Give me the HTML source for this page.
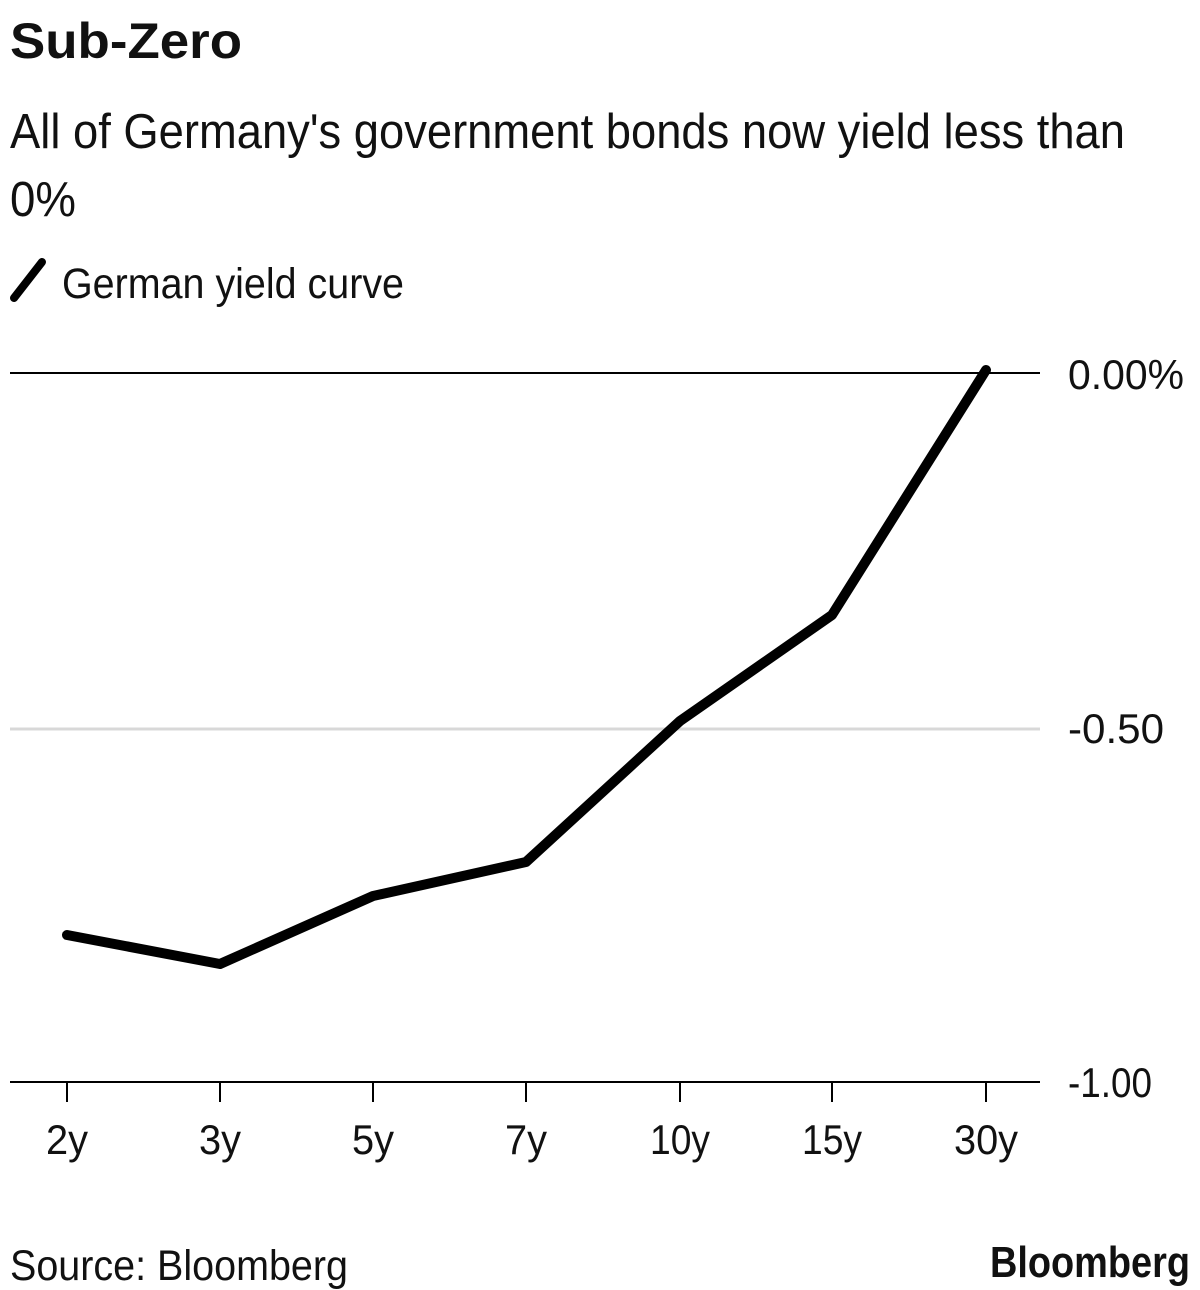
<!DOCTYPE html>
<html><head><meta charset="utf-8"><style>
html,body{margin:0;padding:0;background:#fff;}
svg{display:block;font-family:"Liberation Sans",Arial,sans-serif;}
</style></head><body>
<svg width="1200" height="1290" viewBox="0 0 1200 1290" xmlns="http://www.w3.org/2000/svg">
<text x="10" y="58" font-size="50" font-weight="bold" fill="#111" textLength="232" lengthAdjust="spacingAndGlyphs">Sub-Zero</text>
<text x="10" y="148" font-size="49" fill="#111" textLength="1115" lengthAdjust="spacingAndGlyphs">All of Germany's government bonds now yield less than</text>
<text x="10" y="216" font-size="49" fill="#111" textLength="66" lengthAdjust="spacingAndGlyphs">0%</text>
<line x1="14" y1="298" x2="42" y2="262" stroke="#000" stroke-width="8" stroke-linecap="round"/>
<text x="62" y="298" font-size="43" fill="#111" textLength="342" lengthAdjust="spacingAndGlyphs">German yield curve</text>
<line x1="10" y1="373" x2="1040" y2="373" stroke="#000" stroke-width="2"/>
<line x1="10" y1="729" x2="1040" y2="729" stroke="#d8d8d8" stroke-width="3"/>
<line x1="10" y1="1082" x2="1040" y2="1082" stroke="#000" stroke-width="2"/>
<g font-size="42" fill="#111">
<text x="1068" y="389" textLength="116" lengthAdjust="spacingAndGlyphs">0.00%</text>
<text x="1068" y="743" textLength="96" lengthAdjust="spacingAndGlyphs">-0.50</text>
<text x="1068" y="1097" textLength="84" lengthAdjust="spacingAndGlyphs">-1.00</text>
</g>
<g stroke="#000" stroke-width="2">
<line x1="67" y1="1082" x2="67" y2="1102"/><line x1="220" y1="1082" x2="220" y2="1102"/>
<line x1="373" y1="1082" x2="373" y2="1102"/><line x1="526" y1="1082" x2="526" y2="1102"/>
<line x1="680" y1="1082" x2="680" y2="1102"/><line x1="832" y1="1082" x2="832" y2="1102"/>
<line x1="986" y1="1082" x2="986" y2="1102"/>
</g>
<g font-size="42" fill="#111" text-anchor="middle">
<text x="67" y="1154" textLength="42" lengthAdjust="spacingAndGlyphs">2y</text><text x="220" y="1154" textLength="42" lengthAdjust="spacingAndGlyphs">3y</text><text x="373" y="1154" textLength="42" lengthAdjust="spacingAndGlyphs">5y</text>
<text x="526" y="1154" textLength="42" lengthAdjust="spacingAndGlyphs">7y</text><text x="680" y="1154" textLength="60" lengthAdjust="spacingAndGlyphs">10y</text><text x="832" y="1154" textLength="60" lengthAdjust="spacingAndGlyphs">15y</text>
<text x="986" y="1154" textLength="64" lengthAdjust="spacingAndGlyphs">30y</text>
</g>
<polyline points="67,935 220,964 373,896 526,862 680,721 832,615 986,370" fill="none" stroke="#000" stroke-width="10" stroke-linejoin="round" stroke-linecap="round"/>
<text x="10" y="1280" font-size="43" fill="#111" textLength="338" lengthAdjust="spacingAndGlyphs">Source: Bloomberg</text>
<text x="1190" y="1277" font-size="44" font-weight="bold" fill="#111" text-anchor="end" textLength="200" lengthAdjust="spacingAndGlyphs">Bloomberg</text>
</svg>
</body></html>
